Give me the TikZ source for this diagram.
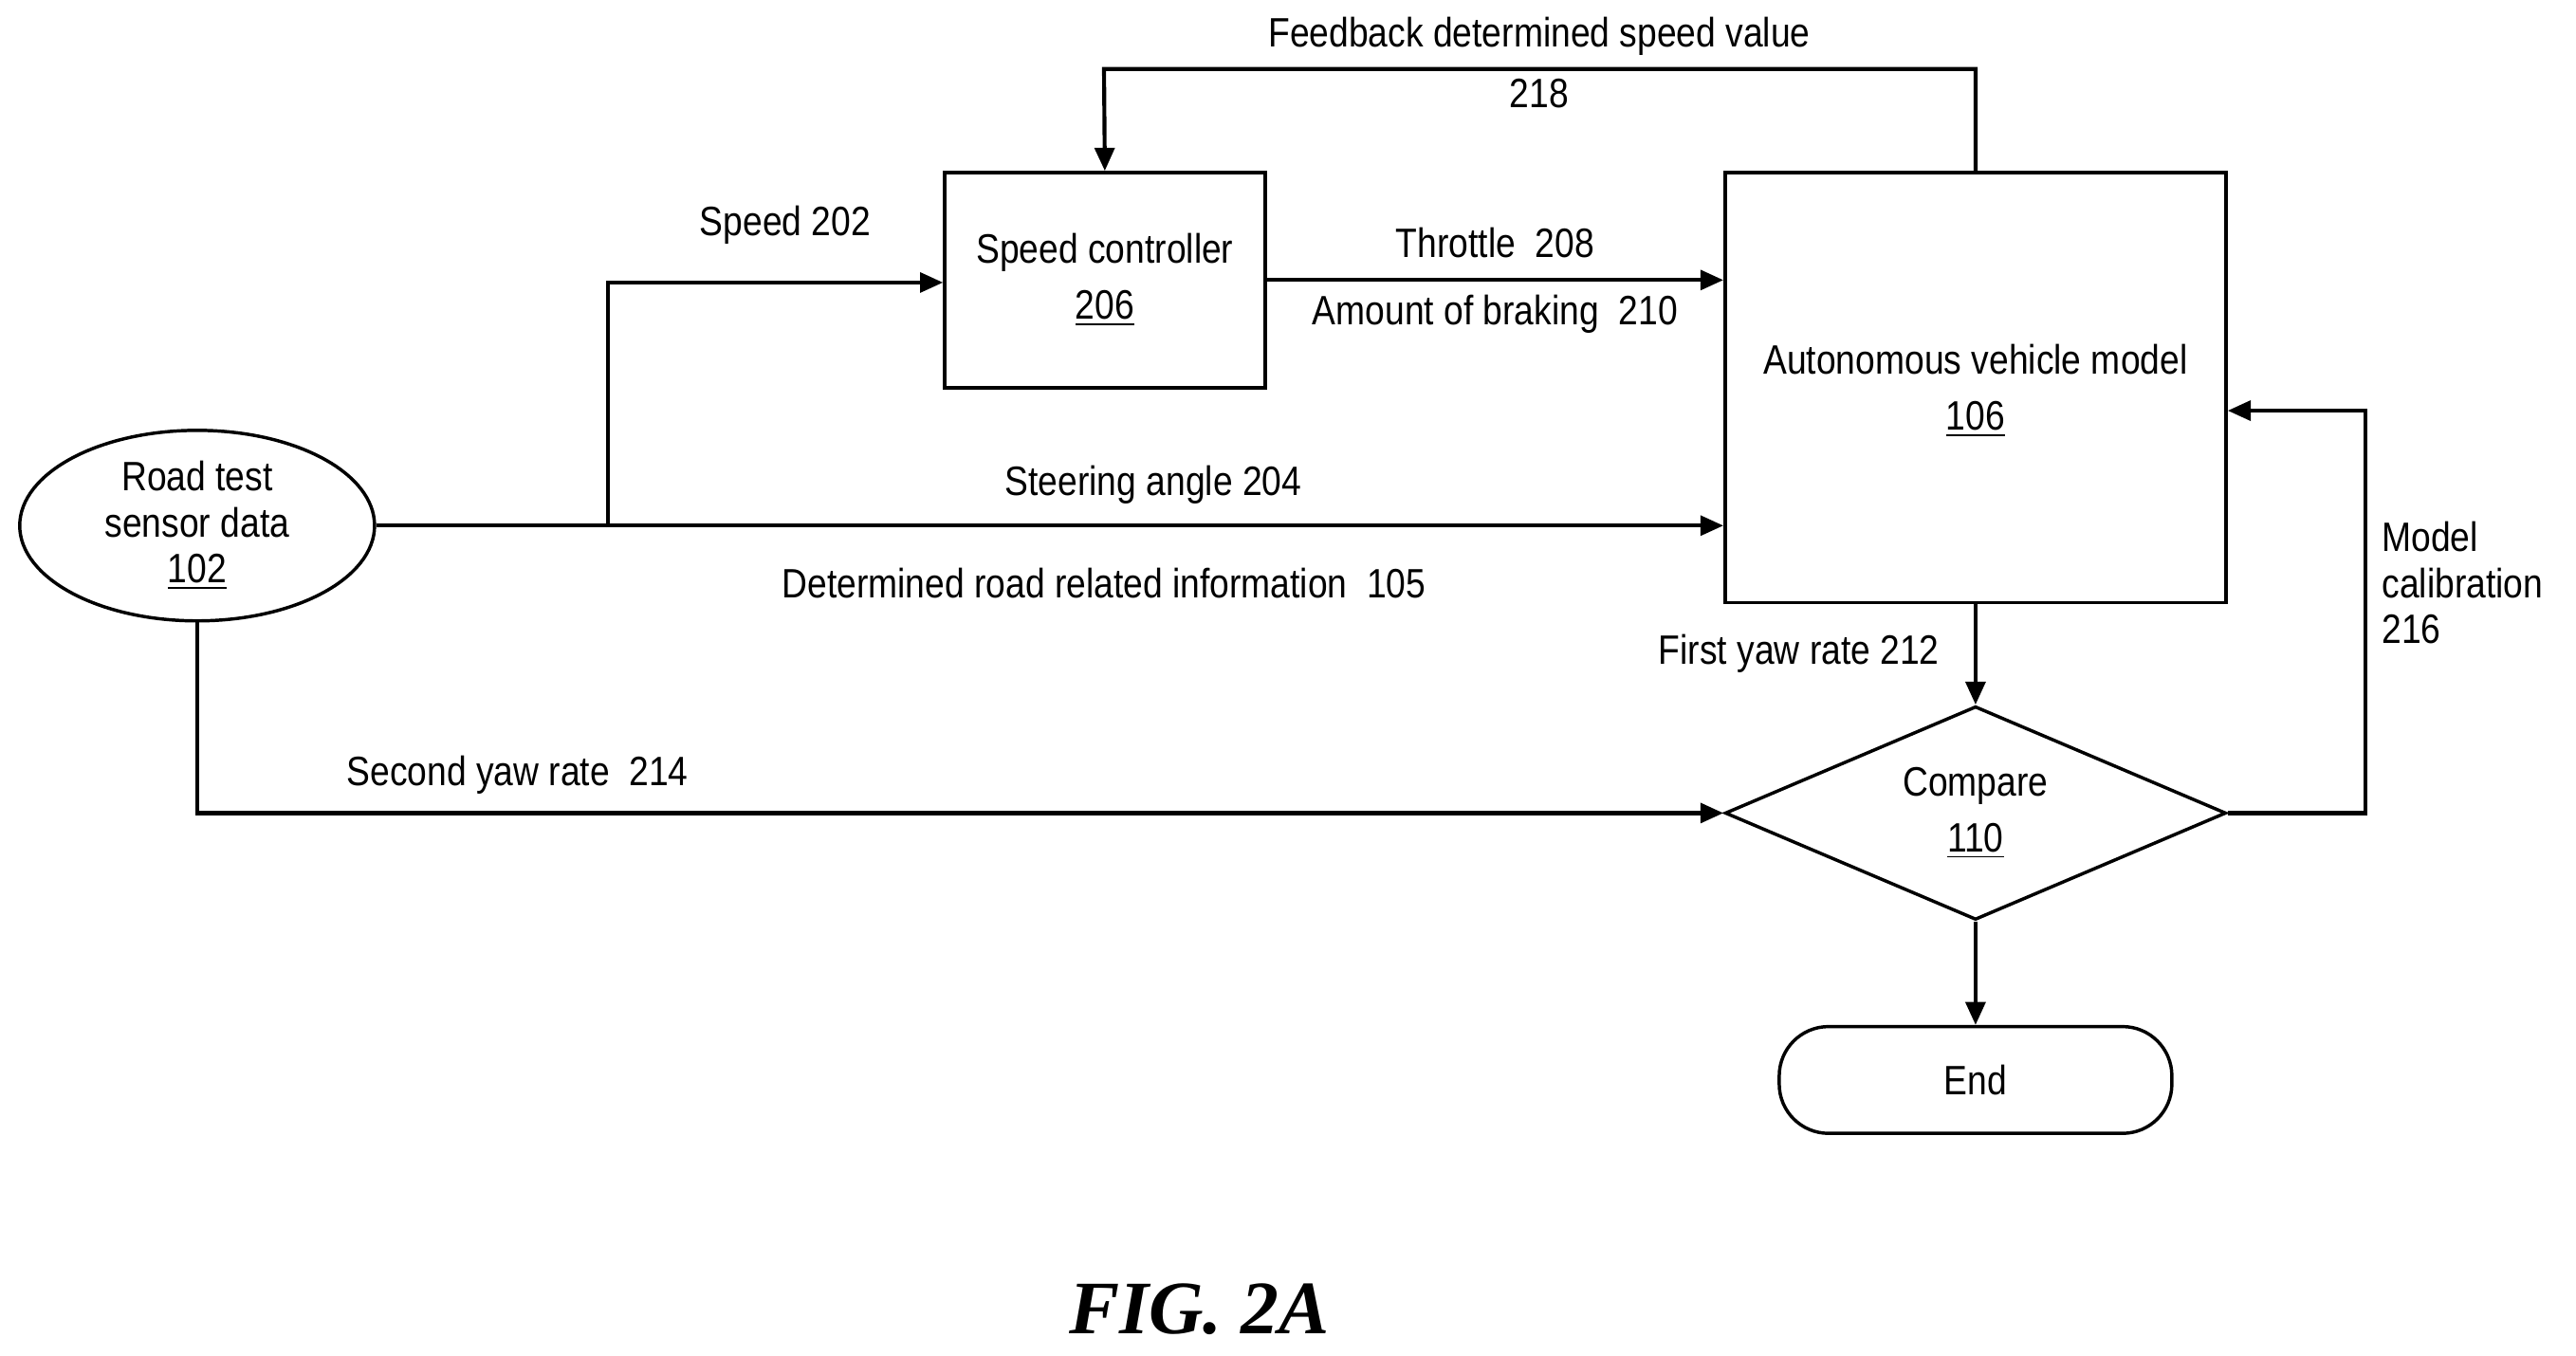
\documentclass[tikz,border=0pt]{standalone}
\usepackage{fontspec}
\setmainfont{Liberation Sans}[FakeStretch=0.86]
\newfontfamily\figfont{Liberation Serif}
\usetikzlibrary{arrows.meta}
\usetikzlibrary{shapes.geometric}
\begin{document}
\begin{tikzpicture}[x=0.5pt,y=0.5pt,yscale=-1,xscale=1,
  box/.style={draw,line width=1pt,inner sep=0pt},
  lbl/.style={inner sep=0.75pt,font=\fontsize{12.5}{14}\selectfont,align=center},
  flow/.style={line width=1.2pt,-{Triangle[length=7pt,width=6pt]}}]
\useasboundingbox (0,0) rectangle (1568,825);

%Nodes
\node [box,ellipse,minimum width=108pt,minimum height=58pt,lbl] (road) at (120,320) {Road test\\sensor data\\\underline{102}};
\node [box,minimum width=97.5pt,minimum height=65.5pt,lbl] (spd) at (672.5,170.5) {Speed controller\\[3pt]\underline{206}};
\node [box,minimum width=152.5pt,minimum height=131pt] (avm) at (1202.5,236) {};
\node [lbl] at (1202.5,238) {Autonomous vehicle model\\[3pt]\underline{106}};
\node [box,diamond,aspect=2.35,minimum width=152.5pt,minimum height=65pt] (cmp) at (1202.5,495) {};
\node [lbl] at (1202.5,495) {Compare\\[3pt]\underline{110}};
\node [box,rounded corners=15pt,minimum width=119.5pt,minimum height=32.5pt,lbl] (end) at (1202.5,657.5) {End};

%Coordinates
\coordinate (fbA) at (1202.5,42);
\coordinate (fbB) at (672,42);
\coordinate (spA) at (370,321);
\coordinate (spB) at (370,172);
\coordinate (yawA) at (120,495);
\coordinate (calA) at (1440,495);
\coordinate (calB) at (1440,250);

%Connectors
\draw [flow] (avm.north) -- (fbA) -- (fbB) -- (spd.north);
\draw [flow] (spA) -- (spB) -- (spd.west |- spB);
\draw [flow] (road.east) -- (avm.west |- road.east);
\draw [flow] (spd.east) -- (avm.west |- spd.east);
\draw [flow] (avm.south) -- (cmp.north);
\draw [flow] (road.south) -- (yawA) -- (cmp.west);
\draw [flow] (cmp.east) -- (calA) -- (calB) -- (avm.east |- calB);
\draw [flow] (cmp.south) -- (end.north);

%Labels
\node [lbl] at (937,22) {Feedback determined speed value};
\node [lbl] at (937,57) {218};
\node [lbl] at (478,137) {Speed 202};
\node [lbl] at (910,148) {Throttle\ \ 208};
\node [lbl] at (910,191) {Amount of braking\ \ 210};
\node [lbl] at (702,295) {Steering angle 204};
\node [lbl] at (672,355) {Determined road related information\ \ 105};
\node [lbl] at (1095,398) {First yaw rate 212};
\node [lbl] at (315,472) {Second yaw rate\ \ 214};
\node [lbl,align=left,anchor=west] at (1448,355) {Model\\calibration\\216};
\node [inner sep=0pt,font=\figfont\bfseries\itshape\fontsize{23}{26}\selectfont] at (730,797) {FIG. 2A};
\end{tikzpicture}
\end{document}
